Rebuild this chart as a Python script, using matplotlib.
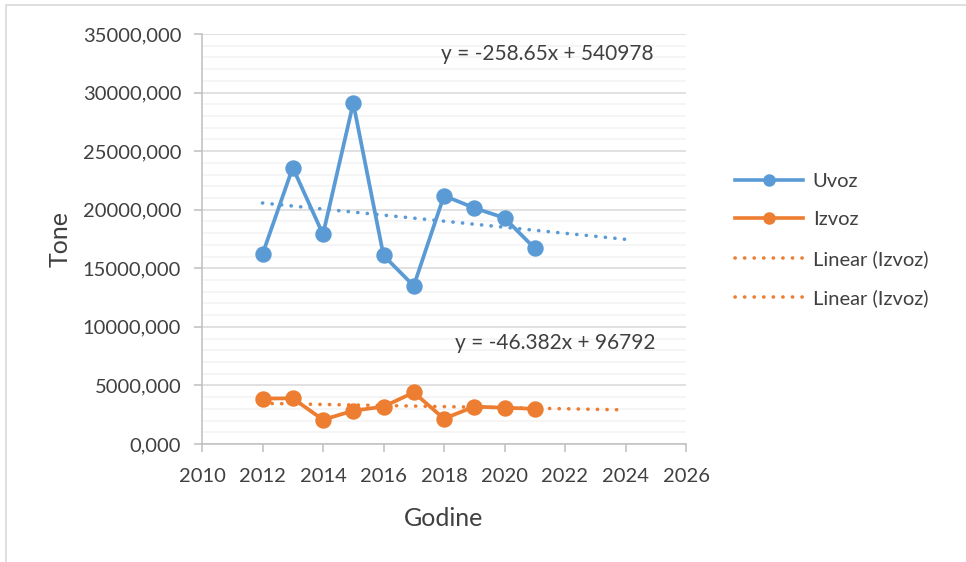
import matplotlib
matplotlib.use('Agg')
import matplotlib.pyplot as plt
from matplotlib.lines import Line2D
from matplotlib.patches import Rectangle
from matplotlib.ticker import MultipleLocator, FuncFormatter
import numpy as np

plt.rcParams['font.family'] = ['Lato', 'DejaVu Sans']

years = [2012, 2013, 2014, 2015, 2016, 2017, 2018, 2019, 2020, 2021]
uvoz = [16200, 23600, 17900, 29100, 16100, 13500, 21200, 20150, 19300, 16700]
izvoz = [3880, 3900, 2070, 2840, 3190, 4400, 2160, 3190, 3100, 3000]

# linear trend coefficients (slope, intercept) and forecast end
uvoz_trend = (-258.65, 540978)
izvoz_trend = (-46.382, 96792)
trend_end = 2024

x_ticks = [2010, 2012, 2014, 2016, 2018, 2020, 2022, 2024, 2026]
legend_labels = ['Uvoz', 'Izvoz', 'Linear (Izvoz)', 'Linear (Izvoz)']

BLUE = '#5B9BD5'
ORANGE = '#ED7D31'
TEXT = '#404040'

fig = plt.figure(figsize=(9.66, 5.62), dpi=100)
# chart area frame (runs off the right and bottom edges)
fig.patches.append(Rectangle((6 / 966, -0.05), 1.0, 1.05 - 5 / 562,
                             transform=fig.transFigure, fill=False,
                             edgecolor='#D9D9D9', linewidth=1.2))
ax = fig.add_axes([202 / 966, 1 - 444 / 562, (686 - 202) / 966, (444 - 34) / 562])

dots = (0, (0.05, 2.6))
tx = np.array([years[0], trend_end])
for (m, b), col in [(uvoz_trend, BLUE), (izvoz_trend, ORANGE)]:
    ax.plot(tx, m * tx + b, color=col, linewidth=2.6, linestyle=dots,
            dash_capstyle='round', zorder=2)

ax.plot(years, uvoz, color=BLUE, linewidth=2.7, marker='o', markersize=10.8, zorder=3)
ax.plot(years, izvoz, color=ORANGE, linewidth=2.7, marker='o', markersize=10.8, zorder=3)

ax.text((547 - 202) / 484, (444 - 54) / 410, 'y = -258.65x + 540978', transform=ax.transAxes,
        ha='center', va='center', fontsize=15, color=TEXT)
ax.text((555 - 202) / 484, (444 - 343) / 410, 'y = -46.382x + 96792', transform=ax.transAxes,
        ha='center', va='center', fontsize=15, color=TEXT)

ax.set_xlim(2010, 2026)
ax.set_ylim(0, 35000)
ax.set_xticks(x_ticks)
ax.yaxis.set_major_locator(MultipleLocator(5000))
ax.yaxis.set_minor_locator(MultipleLocator(1000))
ax.yaxis.set_major_formatter(FuncFormatter(lambda v, p: f'{v:.0f},000'))

ax.grid(axis='y', which='major', color='#D9D9D9', linewidth=1.1, zorder=0)
ax.grid(axis='y', which='minor', color='#F2F2F2', linewidth=1.1, zorder=0)
ax.set_axisbelow(True)
for s in ['top', 'right']:
    ax.spines[s].set_visible(False)
for s in ['left', 'bottom']:
    ax.spines[s].set_color('#BFBFBF')
    ax.spines[s].set_linewidth(1.1)
ax.tick_params(axis='both', which='major', colors='#BFBFBF', labelcolor=TEXT,
               labelsize=14.5, length=6, width=1.1)
ax.tick_params(axis='x', pad=11)
ax.tick_params(axis='y', pad=9)
ax.tick_params(axis='y', which='minor', length=0)

ax.set_xlabel('Godine', fontsize=18, color=TEXT, labelpad=16)
ax.set_ylabel('Tone', fontsize=18, color=TEXT, labelpad=8)

handles = [
    Line2D([], [], color=BLUE, linewidth=2.6, marker='o', markersize=8),
    Line2D([], [], color=ORANGE, linewidth=2.6, marker='o', markersize=8),
    Line2D([], [], color=ORANGE, linewidth=2.6, linestyle=dots, dash_capstyle='round'),
    Line2D([], [], color=ORANGE, linewidth=2.6, linestyle=dots, dash_capstyle='round'),
]
leg = fig.legend(handles, legend_labels, loc='center left',
                 bbox_to_anchor=(717 / 966, 1 - 240 / 562), frameon=False,
                 fontsize=14.5, labelcolor=TEXT, handlelength=3.35,
                 handletextpad=0.5, labelspacing=1.07)

fig.savefig('out.png', dpi=100)
